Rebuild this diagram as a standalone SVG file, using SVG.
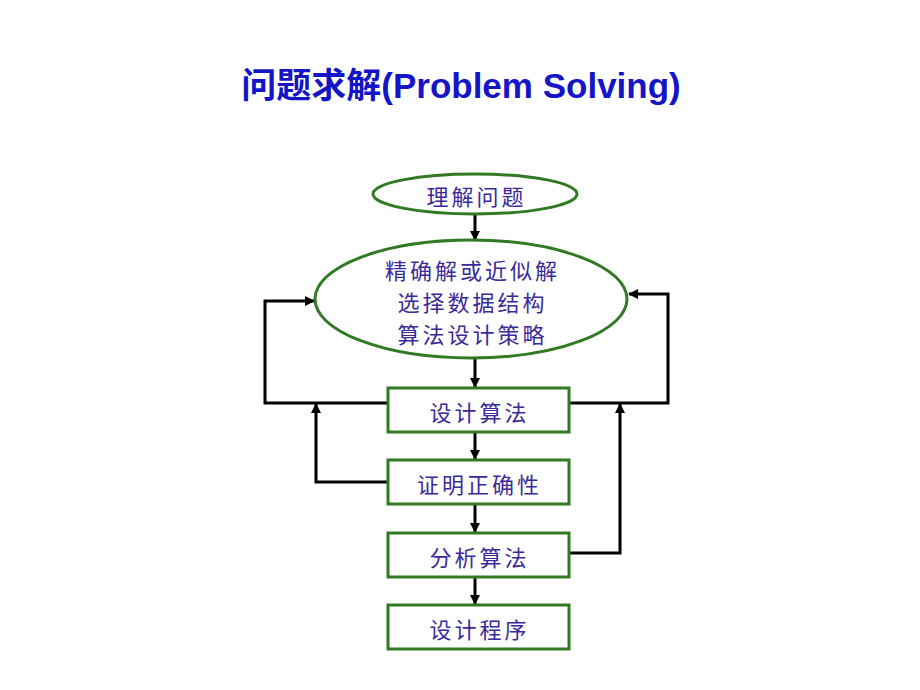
<svg xmlns="http://www.w3.org/2000/svg" width="920" height="690" viewBox="0 0 920 690">
<defs>
<marker id="ah" markerWidth="10" markerHeight="10" refX="9" refY="5" orient="auto" markerUnits="userSpaceOnUse">
<path d="M0,0 L10,5 L0,10 Z" fill="#000"/>
</marker>
<style>
.node{fill:#fff;stroke:#2f7a22;stroke-width:3}
.lbl{font-family:"Noto Sans CJK SC","Liberation Sans",sans-serif;font-size:22px;letter-spacing:3px;fill:#3a2a9a;text-anchor:middle;dominant-baseline:central}
.con{fill:none;stroke:#000;stroke-width:3;marker-end:url(#ah)}
.title{font-family:"Liberation Sans","Noto Sans CJK SC",sans-serif;font-size:35px;font-weight:bold;fill:#1515c8;text-anchor:middle}
</style>
</defs>
<rect width="920" height="690" fill="#fff"/>
<text class="title" x="461" y="98">问题求解(Problem Solving)</text>
<g id="connectors">
<path class="con" d="M475,214 L475,240"/>
<path class="con" d="M475,358 L475,387"/>
<path class="con" d="M475,432 L475,459"/>
<path class="con" d="M475,504 L475,532"/>
<path class="con" d="M475,577 L475,604"/>
<path class="con" d="M388,403 L265,403 L265,301 L314,301"/>
<path class="con" d="M569,403 L668,403 L668,294 L629,294"/>
<path class="con" d="M388,482 L316,482 L316,404"/>
<path class="con" d="M569,553 L620,553 L620,404"/>
</g>
<g id="n1"><ellipse class="node" cx="475" cy="194" rx="102" ry="20"/><text class="lbl" x="476.5" y="195">理解问题</text></g>
<g id="n2"><ellipse class="node" cx="471" cy="299" rx="156" ry="59"/>
<text class="lbl" x="472.5" y="269">精确解或近似解</text>
<text class="lbl" x="472.5" y="301">选择数据结构</text>
<text class="lbl" x="472.5" y="333">算法设计策略</text></g>
<g id="n3"><rect class="node" x="388" y="388" width="181" height="44"/><text class="lbl" x="479.5" y="411">设计算法</text></g>
<g id="n4"><rect class="node" x="388" y="460" width="181" height="44"/><text class="lbl" x="479.5" y="483">证明正确性</text></g>
<g id="n5"><rect class="node" x="388" y="533" width="181" height="44"/><text class="lbl" x="479.5" y="556">分析算法</text></g>
<g id="n6"><rect class="node" x="388" y="605" width="181" height="44"/><text class="lbl" x="479.5" y="628">设计程序</text></g>
</svg>
